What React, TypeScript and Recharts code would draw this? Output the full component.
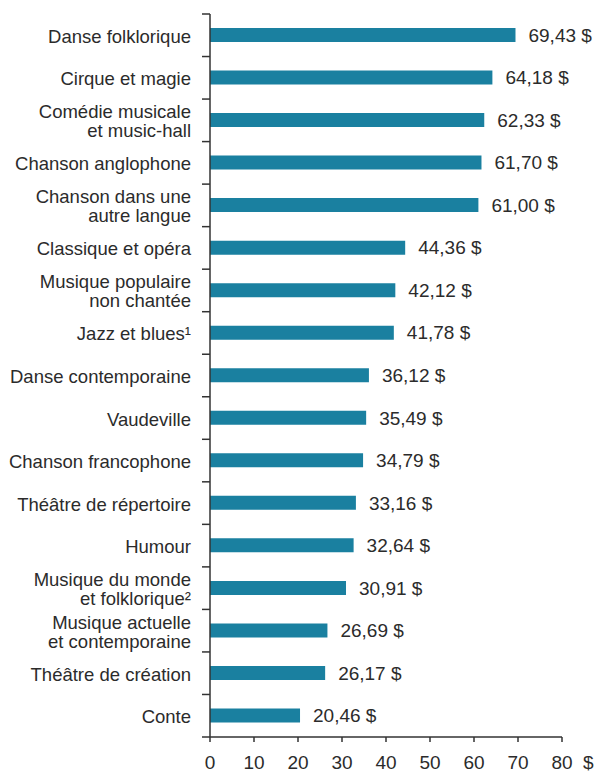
import { Bar, BarChart, LabelList, XAxis, YAxis } from "recharts"

const categories = [
  "Danse folklorique",
  "Cirque et magie",
  "Comédie musicale\net music-hall",
  "Chanson anglophone",
  "Chanson dans une\nautre langue",
  "Classique et opéra",
  "Musique populaire\nnon chantée",
  "Jazz et blues¹",
  "Danse contemporaine",
  "Vaudeville",
  "Chanson francophone",
  "Théâtre de répertoire",
  "Humour",
  "Musique du monde\net folklorique²",
  "Musique actuelle\net contemporaine",
  "Théâtre de création",
  "Conte",
]

const prices = [
  69.43, 64.18, 62.33, 61.7, 61.0, 44.36, 42.12, 41.78, 36.12, 35.49, 34.79, 33.16, 32.64, 30.91, 26.69,
  26.17, 20.46,
]

const xTicks = [0, 10, 20, 30, 40, 50, 60, 70, 80]

const data = categories.map((name, i) => ({ name, price: prices[i] }))

const FONT = "'Liberation Sans', Arial, sans-serif"
const TEXT = "#2b2b2b"
const AXIS = "#333333"
const axisStyle = { stroke: AXIS, strokeWidth: 1.5 }
const LABEL_GAP = 19
const TICK_LEN = 8

const fmt = (v: number) => `${v.toFixed(2).replace(".", ",")} $`

// category label + tick marks between the bands
function CategoryTick({ x, y, payload, index }: any) {
  const lines = String(payload.value).split("\n")
  const lh = 19
  const start = -((lines.length - 1) * lh) / 2
  const half = payload.offset ?? 0
  const ax = x + LABEL_GAP
  return (
    <g>
      <line x1={ax - TICK_LEN} x2={ax} y1={y - half} y2={y - half} stroke={AXIS} strokeWidth={1.5} />
      {index === categories.length - 1 && (
        <line x1={ax - TICK_LEN} x2={ax} y1={y + half} y2={y + half} stroke={AXIS} strokeWidth={1.5} />
      )}
      <text x={x} y={y} textAnchor="end" fontFamily={FONT} fontSize={18.5} fill={TEXT}>
        {lines.map((l, i) => (
          <tspan key={i} x={x} dy={i === 0 ? start + 7.5 : lh}>
            {l}
          </tspan>
        ))}
      </text>
    </g>
  )
}

function PriceTick({ x, y, payload }: any) {
  const last = payload.value === xTicks[xTicks.length - 1]
  return (
    <g>
      <text x={x} y={y} dy="0.71em" textAnchor="middle" fontFamily={FONT} fontSize={19} fill={TEXT}>
        {payload.value}
      </text>
      {last && (
        <text x={x + 21} y={y} dy="0.71em" textAnchor="start" fontFamily={FONT} fontSize={19} fill={TEXT}>
          $
        </text>
      )}
    </g>
  )
}

export default function App() {
  return (
    <div style={{ position: "absolute", left: 0, top: 0, background: "#fff" }}>
      <BarChart
        width={594}
        height={773}
        data={data}
        layout="vertical"
        margin={{ top: 14, right: 32, bottom: 6, left: 0 }}
      >
        <XAxis
          type="number"
          domain={[0, 80]}
          ticks={xTicks}
          interval={0}
          height={30}
          axisLine={axisStyle}
          tickLine={axisStyle}
          tickSize={5}
          tickMargin={14}
          tick={<PriceTick />}
        />
        <YAxis
          type="category"
          dataKey="name"
          width={210}
          interval={0}
          axisLine={axisStyle}
          tickLine={false}
          tickSize={0}
          tickMargin={LABEL_GAP}
          tick={<CategoryTick />}
        />
        <Bar dataKey="price" fill="#1a80a0" barSize={14} isAnimationActive={false}>
          <LabelList
            dataKey="price"
            position="right"
            offset={13}
            formatter={(v: any) => fmt(Number(v))}
            style={{ fontFamily: FONT, fontSize: 19, fill: TEXT }}
          />
        </Bar>
      </BarChart>
    </div>
  )
}
